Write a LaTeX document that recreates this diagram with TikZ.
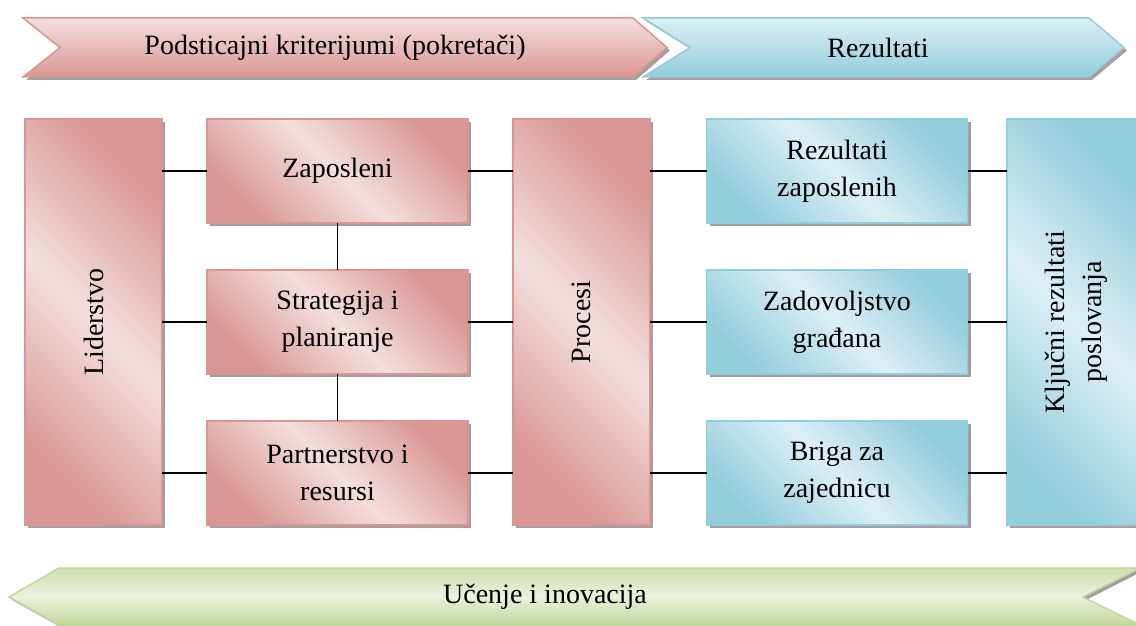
\documentclass[tikz,border=0pt]{standalone}
\usepackage{fontspec}
\setmainfont{Liberation Serif}
\usepackage{tikz}
\usetikzlibrary{positioning, shadows}
\usepackage{xcolor}
\definecolor{RoseLite}{HTML}{F3DFDE}
\definecolor{RoseDark}{HTML}{D99694}
\definecolor{SkyLite}{HTML}{DDEFF5}
\definecolor{SkyDark}{HTML}{92CDDC}
\definecolor{SageLite}{HTML}{EBF1DE}
\definecolor{SageDark}{HTML}{C3D69B}
\definecolor{ShadowGray}{HTML}{9C9494}
\tikzset{%
  box/.style={%
    rectangle,%
    inner sep=0pt,%
    outer sep=0pt,%
    line width=1.5pt,%
    font={\fontsize{28}{37}\selectfont},%
    align=center,%
    drop shadow={shadow xshift=3pt, shadow yshift=-3pt, fill=ShadowGray, opacity=0.9},%
  },
  wide/.style={minimum width=261pt, minimum height=104pt},
  tall/.style={minimum width=137pt, minimum height=406pt},
  rose_box/.style={%
    box,%
    draw=RoseDark,%
    top color=RoseDark,%
    bottom color=RoseDark,%
    middle color=RoseLite,%
    shading angle=-45,%
  },
  sky_box/.style={%
    box,%
    draw=SkyDark,%
    top color=SkyDark,%
    bottom color=SkyDark,%
    middle color=SkyLite,%
    shading angle=-45,%
  },
  band/.style={%
    line width=1.5pt,%
    line join=miter,%
    drop shadow={shadow xshift=3pt, shadow yshift=-3pt, fill=ShadowGray, opacity=0.9},%
  },
  band_text/.style={%
    font={\fontsize{28}{37}\selectfont},%
  },
  link/.style={%
    color=black,%
    line width=1.3pt,%
  },
}
\begin{document}
\begin{tikzpicture}[x=1pt, y=-1pt]
  \useasboundingbox (0,0) rectangle (1136,626);

  % top bands
  \path [band, draw=RoseDark, top color=RoseLite, bottom color=RoseDark]
    (23,18) -- (633,18) -- (667,47.5) -- (633,77) -- (23,77) -- (60,47.5) -- cycle;
  \path [band, draw=SkyDark, top color=SkyLite, bottom color=SkyDark]
    (643,18) -- (1089,18) -- (1124,47.5) -- (1089,77) -- (643,77) -- (690,47.5) -- cycle;
  \node [band_text] (Drivers) at (335,47.5) {Podsticajni kriterijumi (pokretači)};
  \node [band_text] (Results) at (878,47.5) {Rezultati};

  % enablers
  \node [rose_box, tall] (Leadership) at (93.5,322) {\rotatebox{90}{Liderstvo}};
  \node [rose_box, wide] (People) at (337.5,171) {Zaposleni};
  \node [rose_box, wide, below=47pt of People] (Strategy) {Strategija i\\planiranje};
  \node [rose_box, wide, below=47pt of Strategy] (Partners) {Partnerstvo i\\resursi};
  \node [rose_box, tall] (Processes) at (581.5,322) {\rotatebox{90}{Procesi}};

  % results
  \node [sky_box, wide] (PeopleRes) at (837,171) {Rezultati\\zaposlenih};
  \node [sky_box, wide, below=47pt of PeopleRes] (CitizenRes) {Zadovoljstvo\\građana};
  \node [sky_box, wide, below=47pt of CitizenRes] (SocietyRes) {Briga za\\zajednicu};
  \node [sky_box, tall] (KeyRes) at (1075.5,322)
    {\rotatebox{90}{\begin{tabular}{@{}c@{}}Ključni rezultati\\poslovanja\end{tabular}}};

  % bottom band
  \path [band, draw=SageDark, top color=SageDark!70!SageLite, bottom color=SageDark, middle color=SageLite]
    (59,568) -- (1140,568) -- (1083,597) -- (1140,625) -- (59,625) -- (9,597) -- cycle;
  \node [band_text] (Learning) at (545,597) {Učenje i inovacija};

  % links
  \draw [link] (Leadership.east |- People.west) -- (People.west);
  \draw [link] (Leadership.east |- Strategy.west) -- (Strategy.west);
  \draw [link] (Leadership.east |- Partners.west) -- (Partners.west);
  \draw [link] (People.south) -- (Strategy.north);
  \draw [link] (Strategy.south) -- (Partners.north);
  \draw [link] (People.east) -- (People.east -| Processes.west);
  \draw [link] (Strategy.east) -- (Strategy.east -| Processes.west);
  \draw [link] (Partners.east) -- (Partners.east -| Processes.west);
  \draw [link] (Processes.east |- PeopleRes.west) -- (PeopleRes.west);
  \draw [link] (Processes.east |- CitizenRes.west) -- (CitizenRes.west);
  \draw [link] (Processes.east |- SocietyRes.west) -- (SocietyRes.west);
  \draw [link] (PeopleRes.east) -- (PeopleRes.east -| KeyRes.west);
  \draw [link] (CitizenRes.east) -- (CitizenRes.east -| KeyRes.west);
  \draw [link] (SocietyRes.east) -- (SocietyRes.east -| KeyRes.west);
\end{tikzpicture}
\end{document}
